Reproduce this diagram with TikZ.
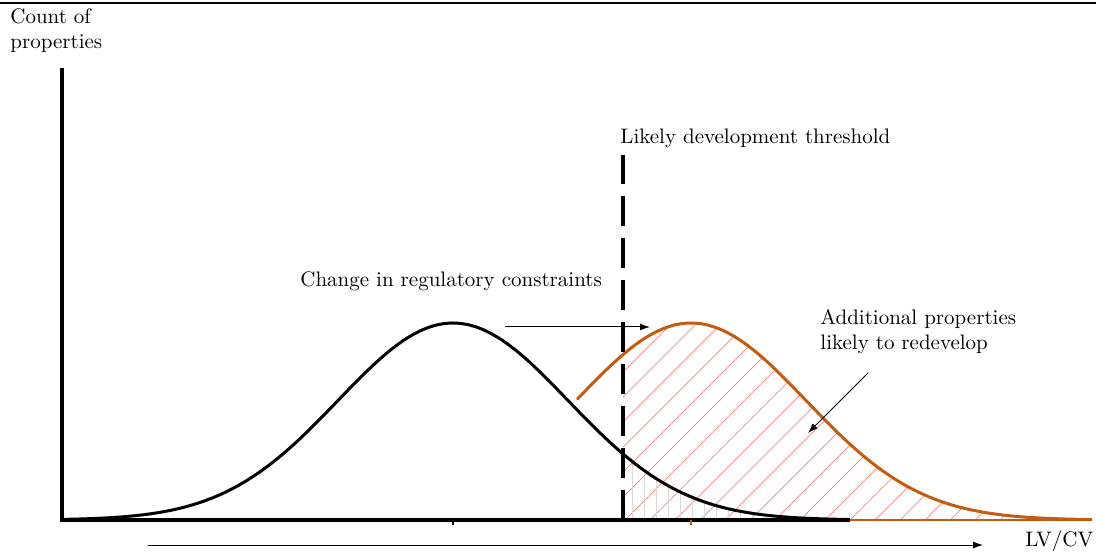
\documentclass[tikz,border=0pt]{standalone}
\usepackage{tikz}
\usetikzlibrary{calc,positioning,arrows.meta}
\definecolor{shiftorange}{RGB}{197,90,17}
\definecolor{hatchred}{RGB}{245,130,130}
\tikzset{
  line/.style={-{Latex[length=5pt,width=3.5pt]}, line width=0.5pt},
  axis/.style={line width=1.6pt},
  curve/.style={line width=1.5pt},
  label/.style={align=left, inner sep=0pt, font=\fontsize{10.5}{12.5}\selectfont},
  hatch/.style={hatchred, line width=0.35pt},
  fillline/.style={gray!30, line width=0.3pt}
}
\begin{document}
\begin{tikzpicture}[x=0.5pt, y=-0.5pt,
  declare function={
    gb(\t)=520-197*exp(-0.5*((\t-453)/115)^2);
    go(\t)=520-197*exp(-0.5*((\t-691)/115)^2);
  }]
  \useasboundingbox (0,0) rectangle (1096,560);
  \draw[line width=1pt] (0,3) -- (1096,3);

  % hatched area right of threshold
  \begin{scope}
    \clip (623,520) -- plot[domain=623:1092, samples=60] (\x,{go(\x)}) -- (1092,520) -- cycle;
    \foreach \i in {200,225,...,1100}
      \draw[hatch] (\i,520) -- ++(420,-420);
  \end{scope}
  \foreach \x in {632,644,...,776}
    \draw[fillline] (\x,520) -- (\x,{gb(\x)});

  % curves
  \draw[shiftorange, line width=1.3pt] (577,520) -- (1092,520);
  \draw[curve, shiftorange] plot[domain=577:1092, samples=80] (\x,{go(\x)});
  \draw[curve] plot[domain=62:850, samples=100] (\x,{gb(\x)});
  \draw[axis] (62,68) -- (62,520) -- (850,520);
  \draw[line width=0.8pt] (453,520) -- (453,525);
  \draw[shiftorange, line width=0.8pt] (691,520) -- (691,525);

  % threshold
  \draw[line width=1.6pt, dash pattern=on 15pt off 6pt] (623,520) -- (623,155);

  % labels
  \node[label, anchor=north west] (count) at (10,8) {Count of\\properties};
  \node[label, anchor=west] (thresh) at (620,138) {Likely development threshold};
  \node[label, anchor=west] (change) at (300,281) {Change in regulatory constraints};
  \node[label, anchor=north west] (additional) at (820,309) {Additional properties\\likely to redevelop};
  \node[label, anchor=west] (lvcv) at (1025,541) {LV/CV};

  % arrows
  \coordinate (shiftA) at (505,327);
  \coordinate (shiftB) at (650,327);
  \coordinate (addA) at (868,373);
  \coordinate (addB) at (808,433);
  \coordinate (axA) at (148,545);
  \coordinate (axB) at (983,545);
  \draw[line] (shiftA) -- (shiftB);
  \draw[line] (addA) -- (addB);
  \draw[line] (axA) -- (axB);
\end{tikzpicture}
\end{document}
